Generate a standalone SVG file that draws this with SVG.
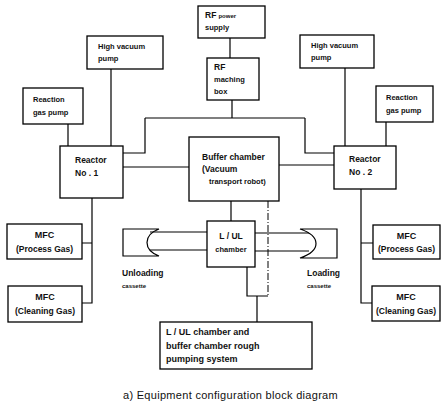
<svg xmlns="http://www.w3.org/2000/svg" width="443" height="406" viewBox="0 0 443 406">
<style>
.box{fill:#fff;stroke:#000;stroke-width:1.3}
.ln{fill:none;stroke:#000;stroke-width:1.2}
.dash{fill:none;stroke:#000;stroke-width:1;stroke-dasharray:7 2 1 2}
text{font-family:"Liberation Sans",Arial,sans-serif;font-weight:bold;fill:#111;font-size:7.5px}
.c{text-anchor:middle}
.m{font-size:8.5px}
.big{font-size:9px}
.sm{font-size:6px}
.cap{font-size:11px;font-weight:normal;letter-spacing:0.3px}
</style>
<rect width="443" height="406" fill="#fff"/>
<g id="connectors">
<path class="ln" d="M230,38V58"/>
<path class="ln" d="M232,100V118M145,118H305M145,118V153H123M305,118V153H334"/>
<path class="ln" d="M123,167H189M279,165H334"/>
<path class="ln" d="M111,69V146M68,124V146M345,68V146M386,122V146"/>
<path class="ln" d="M92,198V303H82M82,243H92"/>
<path class="ln" d="M361,189V303H372M361,243H373"/>
<path class="ln" d="M231,201V221"/>
<path class="dash" d="M268,201V296"/>
<path class="ln" d="M247,267V296H268M257,296V322"/>
<path class="ln" d="M150,232H207M150,250H207"/>
<path class="ln" d="M255,233H309M255,251H309"/>
</g>
<g id="rf-power-supply"><rect class="box" x="198" y="6" width="67" height="32"/><text x="205" y="18"><tspan class="m">RF</tspan> <tspan class="sm">power</tspan></text><text x="205" y="30">supply</text></g>
<g id="rf-matching-box"><rect class="box" x="207" y="58" width="52" height="42"/><text x="214" y="70" class="m">RF</text><text x="214" y="82">maching</text><text x="214" y="94">box</text></g>
<g id="high-vacuum-pump-1"><rect class="box" x="87" y="36" width="76" height="33"/><text x="98" y="49">High vacuum</text><text x="98" y="61">pump</text></g>
<g id="reaction-gas-pump-1"><rect class="box" x="23" y="88" width="60" height="36"/><text x="33" y="102">Reaction</text><text x="33" y="115">gas pump</text></g>
<g id="high-vacuum-pump-2"><rect class="box" x="300" y="35" width="74" height="33"/><text x="311" y="48">High vacuum</text><text x="311" y="60">pump</text></g>
<g id="reaction-gas-pump-2"><rect class="box" x="376" y="86" width="57" height="36"/><text x="386" y="100">Reaction</text><text x="386" y="113">gas pump</text></g>
<g id="reactor-1"><rect class="box" x="60" y="146" width="63" height="52"/><text x="75" y="163" class="m">Reactor</text><text x="75" y="176" class="m">No .  1</text></g>
<g id="reactor-2"><rect class="box" x="334" y="146" width="62" height="43"/><text x="349" y="162" class="m">Reactor</text><text x="349" y="175" class="m">No .  2</text></g>
<g id="buffer-chamber"><rect class="box" x="189" y="137" width="90" height="64"/><text x="202" y="160" class="m">Buffer chamber</text><text x="202" y="172" class="m">(Vacuum</text><text x="209" y="184">transport robot)</text></g>
<g id="lul-chamber"><rect class="box" x="207" y="221" width="48" height="46"/><text class="c m" x="231" y="239">L / UL</text><text class="c" x="231" y="252">chamber</text></g>
<g id="unloading-cassette"><path class="ln" d="M159,229H123V256H159C151,253 147,248 147,242.5C147,237 151,232 159,229Z"/><text x="122" y="276" class="m">Unloading</text><text x="122" y="288" class="sm">cassette</text></g>
<g id="loading-cassette"><path class="ln" d="M300,229H337V258H300C309,255 316,250 316,243.5C316,237 309,232 300,229Z"/><text x="307" y="276" class="m">Loading</text><text x="307" y="288" class="sm">cassette</text></g>
<g id="mfc-process-1"><rect class="box" x="7" y="224" width="75" height="35"/><text class="c big" x="44.5" y="238">MFC</text><text class="c m" x="44.5" y="252">(Process Gas)</text></g>
<g id="mfc-cleaning-1"><rect class="box" x="8" y="286" width="74" height="36"/><text class="c big" x="45" y="300">MFC</text><text class="c m" x="45" y="314">(Cleaning Gas)</text></g>
<g id="mfc-process-2"><rect class="box" x="373" y="225" width="67" height="34"/><text class="c big" x="406.5" y="239">MFC</text><text class="c m" x="406.5" y="252">(Process Gas)</text></g>
<g id="mfc-cleaning-2"><rect class="box" x="372" y="286" width="68" height="35"/><text class="c big" x="406" y="300">MFC</text><text class="c m" x="406" y="314">(Cleaning Gas)</text></g>
<g id="rough-pumping"><rect class="box" x="160" y="322" width="152" height="47"/><text x="166" y="335" class="big">L / UL chamber and</text><text x="166" y="349" class="big">buffer chamber rough</text><text x="166" y="362" class="big">pumping system</text></g>
<text class="cap" x="123" y="399">a) Equipment configuration block diagram</text>
</svg>
